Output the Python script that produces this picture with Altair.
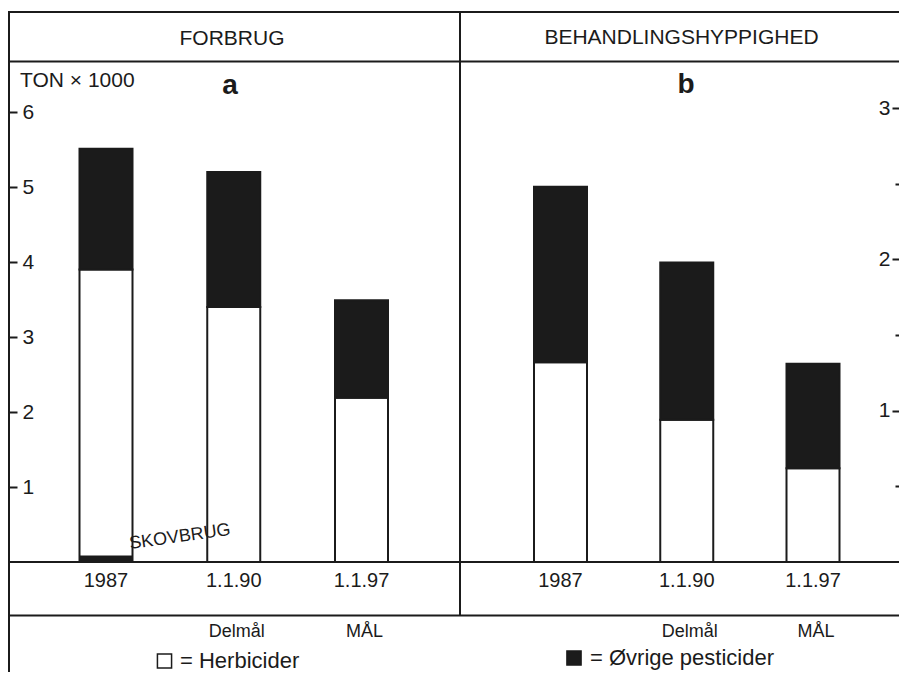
import altair as alt
import pandas as pd

# ---------------- data ----------------
categories = ["1987", "1.1.90", "1.1.97"]
sublabels = ["", "Delmål", "MÅL"]
forbrug_herbicider = [3.90, 3.40, 2.19]      # TON x 1000 (white part)
forbrug_ovrige = [1.61, 1.80, 1.30]          # black part
skovbrug_1987 = [0.08]
behandling_herbicider = [1.32, 0.94, 0.62]
behandling_ovrige = [1.16, 1.04, 0.69]
forbrug_ticks = [1, 2, 3, 4, 5, 6]
behandling_ticks = [0.5, 1, 1.5, 2, 2.5, 3]

FONT = "Liberation Sans, Arial, Helvetica, sans-serif"
INK = "#1b1b1b"
OX, OY = 8, 8    # page position of the drawing origin
W = 891          # whole drawing width (px)
H = 664          # whole drawing height (px)
LW = 2


def px(x):
    return x - OX


def py(y):
    return y - OY


BASE = py(562)


def one(**kw):
    return alt.Chart(pd.DataFrame([kw]))


def hline(y, x1, x2):
    return one(k=0).mark_rule(color=INK, strokeWidth=LW).encode(
        x=alt.value(x1), x2=alt.value(x2), y=alt.value(y))


def vline(x, y1, y2):
    return one(k=0).mark_rule(color=INK, strokeWidth=LW).encode(
        x=alt.value(x), y=alt.value(y1), y2=alt.value(y2))


def label(text, x, y, size, weight="normal", align="center", baseline="alphabetic", angle=0):
    kw = dict(font=FONT, fontSize=size, fontWeight=weight, color=INK,
              align=align, baseline=baseline)
    if angle:
        kw["angle"] = angle
    return one(t=text).mark_text(**kw).encode(
        x=alt.value(px(x)), y=alt.value(py(y)), text="t:N")


def square(x, y, fill):
    return one(k=0).mark_square(size=200, fill=fill, stroke=INK, strokeWidth=1.5, opacity=1).encode(
        x=alt.value(px(x)), y=alt.value(py(y)))


def panel(centers, bandwidth, ppu, herb, ovr, axis, extra):
    c = [px(v) for v in centers]
    step = (c[-1] - c[0]) / 2
    r0 = c[0] - step / 2
    pin = 1 - bandwidth / step
    xscale = alt.Scale(domain=categories, range=[r0, r0 + 3 * step],
                       paddingInner=pin, paddingOuter=pin / 2)
    x = alt.X("kategori:N", scale=xscale, axis=None, sort=categories)
    yscale = alt.Scale(domain=[(BASE - H) / ppu, BASE / ppu], nice=False, zero=False)

    df = pd.DataFrame({
        "kategori": categories,
        "herb": herb,
        "ovr": ovr,
        "under": sublabels,
    })
    base = alt.Chart(df).transform_calculate(total="datum.herb + datum.ovr")

    white = base.mark_bar(fill="white", stroke=INK, strokeWidth=LW).encode(
        x=x, y=alt.Y("herb:Q", scale=yscale, axis=axis), y2=alt.Y2Datum(0))
    black = base.mark_bar(fill=INK, stroke=INK, strokeWidth=LW).encode(
        x=x, y=alt.Y("total:Q", scale=yscale, axis=axis), y2="herb:Q")
    years = base.mark_text(font=FONT, fontSize=20, color=INK, baseline="alphabetic").encode(
        x=x, y=alt.value(py(587)), text="kategori:N")
    under = base.mark_text(font=FONT, fontSize=18, color=INK, baseline="alphabetic", dx=3).encode(
        x=x, y=alt.value(py(637)), text="under:N")

    layers = [white, black]
    for e in extra:
        layers.append(e(x, yscale, axis))
    layers += [years, under]
    return alt.layer(*layers)


axis_a = alt.Axis(orient="right", offset=-W + 1, values=forbrug_ticks, domain=False, grid=False,
                  tickSize=8, tickWidth=LW, tickColor=INK, labelFont=FONT, labelFontSize=21,
                  labelColor=INK, labelPadding=5, labelBaseline="middle", labelFlush=False,
                  labelOverlap=False, title=None, format="d")

axis_b = alt.Axis(orient="left", offset=-W, values=behandling_ticks, domain=False, grid=False,
                  tickSize={"condition": {"test": "datum.value % 1 == 0", "value": 7}, "value": 4},
                  tickWidth=LW, tickColor=INK, labelFont=FONT, labelFontSize=21,
                  labelColor=INK, labelPadding=2, labelBaseline="middle", labelFlush=False,
                  labelOverlap=False, title=None,
                  labelExpr="datum.value % 1 == 0 ? format(datum.value, 'd') : ''")


def skov_layer(x, yscale, axis):
    d = pd.DataFrame({"kategori": ["1987"], "v": skovbrug_1987})
    return alt.Chart(d).mark_bar(fill=INK, stroke=INK, strokeWidth=1).encode(
        x=x, y=alt.Y("v:Q", scale=yscale, axis=axis), y2=alt.Y2Datum(0))


pa = panel([106, 232.5, 361.5], 53, 75.0, forbrug_herbicider, forbrug_ovrige, axis_a,
           [skov_layer])
pb = panel([560.5, 687.5, 813], 53, 151.3, behandling_herbicider, behandling_ovrige, axis_b, [])

frame = alt.layer(
    hline(py(12), 0, W), hline(py(61.5), 0, W), hline(BASE, 0, W), hline(py(615.5), 0, W),
    vline(1, py(12), H), vline(px(460), py(12), py(615.5)),
    label("FORBRUG", 232, 45, 21),
    label("BEHANDLINGSHYPPIGHED", 681.5, 44, 21),
    label("TON × 1000", 20, 87, 21, align="left"),
    label("a", 230, 94, 28, weight="bold"),
    label("b", 686, 93, 28, weight="bold"),
    label("SKOVBRUG", 180, 537, 18, baseline="middle", angle=352),
    square(164.5, 661, "white"),
    label("= Herbicider", 180, 668, 22, align="left"),
    square(574, 658, INK),
    label("= Øvrige pesticider", 590, 665, 22, align="left"),
)

chart = alt.layer(pa, pb, frame).resolve_scale(
    x="independent", y="independent").resolve_axis(y="independent").properties(
    width=W, height=H, padding=0, background="white",
    autosize=alt.AutoSizeParams(type="none")).configure_view(stroke=None)

chart.save("out.html", embed_options={"renderer": "svg", "actions": False})
